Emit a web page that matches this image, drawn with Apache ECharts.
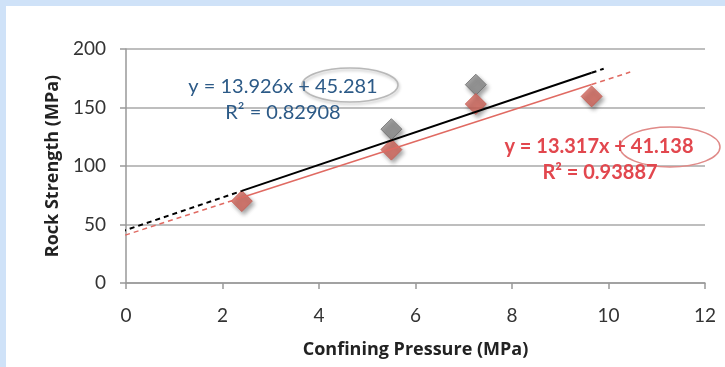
<!DOCTYPE html>
<html>
<head>
<meta charset="utf-8">
<script src="https://cdn.jsdelivr.net/npm/echarts@6/dist/echarts.min.js"></script>
<style>
  html, body { margin: 0; padding: 0; background: #ffffff; }
  #chart { width: 725px; height: 367px; }
</style>
</head>
<body>
<div id="chart"></div>
<script>
// Confining pressure (MPa) of each test
const pressureRed = [2.4, 5.5, 7.25, 9.65];
const strengthRed = [70, 114, 153, 159.5];
const pressureGray = [5.5, 7.25];
const strengthGray = [131.5, 169.5];

// Linear fits: y = slope * x + intercept
const fitGray = { slope: 13.926, intercept: 45.281, r2: 0.82908 };
const fitRed = { slope: 13.317, intercept: 41.138, r2: 0.93887 };

// Fitted range and forecast extents of each trendline
const spanGray = { back: -0.1, from: 2.4, to: 9.65, fwd: 9.9 };
const spanRed = { back: -0.55, from: 2.4, to: 9.65, fwd: 10.45 };

const xTicks = { min: 0, max: 12, step: 2 };
const yTicks = { min: 0, max: 200, step: 50 };

const FONT = 'Lato';
const NAME_FONT = 'Open Sans';
const BLUE_TEXT = '#2c5a87';
const RED_TEXT = '#e2474e';
const RED = '#d3665b';

function pts(xs, ys) { return xs.map((x, i) => [x, ys[i]]); }
function seg(fit, a, b) {
  return [[a, fit.slope * a + fit.intercept], [b, fit.slope * b + fit.intercept]];
}
function fmtEq(fit) {
  const sign = fit.intercept >= 0 ? '+' : '-';
  return 'y = ' + fit.slope.toFixed(3) + 'x ' + sign + ' ' + Math.abs(fit.intercept).toFixed(3);
}

const shadow = { shadowBlur: 4, shadowOffsetX: 2, shadowOffsetY: 3, shadowColor: 'rgba(0,0,0,0.45)' };

function trend(fit, span, color, width) {
  const base = { type: 'line', showSymbol: false, symbol: 'none', clip: false, z: 5, silent: true };
  return [
    Object.assign({}, base, { data: seg(fit, span.from, span.to), lineStyle: { color, width } }),
    Object.assign({}, base, { data: seg(fit, span.back, span.from), lineStyle: { color, width, type: [5, 4] } }),
    Object.assign({}, base, { data: seg(fit, span.to, span.fwd), lineStyle: { color, width, type: [5, 4] } })
  ];
}

const chart = echarts.init(document.getElementById('chart'), null, { renderer: 'canvas' });

chart.setOption({
  animation: false,
  backgroundColor: '#ffffff',
  grid: { left: 126, right: 20, top: 49, bottom: 84 },
  xAxis: {
    type: 'value', min: xTicks.min, max: xTicks.max, interval: xTicks.step,
    name: 'Confining Pressure (MPa)', nameLocation: 'middle', nameGap: 58,
    nameTextStyle: { fontFamily: NAME_FONT, fontSize: 18, fontWeight: 'bold', color: '#222' },
    axisLine: { lineStyle: { color: '#999', width: 1.5 } },
    axisTick: { show: true, length: 6, lineStyle: { color: '#999', width: 1.5 } },
    axisLabel: { fontFamily: FONT, fontSize: 19, color: '#333', margin: 23 },
    splitLine: { show: false }
  },
  yAxis: {
    type: 'value', min: yTicks.min, max: yTicks.max, interval: yTicks.step,
    name: 'Rock Strength (MPa)', nameLocation: 'middle', nameGap: 62,
    nameTextStyle: { fontFamily: NAME_FONT, fontSize: 18, fontWeight: 'bold', color: '#222' },
    axisLine: { show: true, lineStyle: { color: '#999', width: 1.5 } },
    axisTick: { show: true, length: 6, lineStyle: { color: '#999', width: 1.5 } },
    axisLabel: { fontFamily: FONT, fontSize: 19, color: '#333', margin: 20, padding: [4, 0, 0, 0] },
    splitLine: { show: true, lineStyle: { color: '#a8a8a8', width: 1.5 } }
  },
  series: [
    {
      type: 'scatter', symbol: 'diamond', symbolSize: 21, z: 3,
      data: pts(pressureGray, strengthGray),
      itemStyle: Object.assign({ color: '#8c8c8c', borderColor: '#6e6e6e', borderWidth: 1 }, shadow)
    },
    {
      type: 'scatter', symbol: 'diamond', symbolSize: 21, z: 4,
      data: pts(pressureRed, strengthRed),
      itemStyle: Object.assign({ color: RED, borderColor: '#c85a50', borderWidth: 1 }, shadow)
    }
  ].concat(trend(fitRed, spanRed, '#e06a62', 1.5))
   .concat(trend(fitGray, spanGray, '#000000', 2)),
  graphic: [
    { type: 'rect', shape: { x: 0, y: 0, width: 6, height: 367 }, style: { fill: '#cfe2f8' }, silent: true },
    { type: 'rect', shape: { x: 0, y: 0, width: 725, height: 6 }, style: { fill: '#cfe2f8' }, silent: true },
    {
      type: 'text', x: 283, y: 87, z: 10,
      style: { text: fmtEq(fitGray), fontFamily: FONT, fontSize: 20, fill: BLUE_TEXT, align: 'center', verticalAlign: 'middle' }
    },
    {
      type: 'text', x: 283, y: 113, z: 10,
      style: { text: 'R² = ' + fitGray.r2.toFixed(5), fontFamily: FONT, fontSize: 20, fill: BLUE_TEXT, align: 'center', verticalAlign: 'middle' }
    },
    {
      type: 'text', x: 599, y: 147, z: 10,
      style: { text: fmtEq(fitRed), fontFamily: FONT, fontSize: 20, fontWeight: 'bold', fill: RED_TEXT, align: 'center', verticalAlign: 'middle' }
    },
    {
      type: 'text', x: 600, y: 173, z: 10,
      style: { text: 'R² = ' + fitRed.r2.toFixed(5), fontFamily: FONT, fontSize: 20, fontWeight: 'bold', fill: RED_TEXT, align: 'center', verticalAlign: 'middle' }
    },
    {
      type: 'ellipse', z: 9, shape: { cx: 350, cy: 85, rx: 48, ry: 17 },
      style: { fill: 'none', stroke: '#b8b8b8', lineWidth: 1.5, shadowBlur: 3, shadowOffsetX: 1, shadowOffsetY: 2, shadowColor: 'rgba(0,0,0,0.25)' }
    },
    {
      type: 'ellipse', z: 9, shape: { cx: 670, cy: 147, rx: 50, ry: 20 },
      style: { fill: 'none', stroke: '#e08a88', lineWidth: 1.5 }
    }
  ]
});
</script>
</body>
</html>
